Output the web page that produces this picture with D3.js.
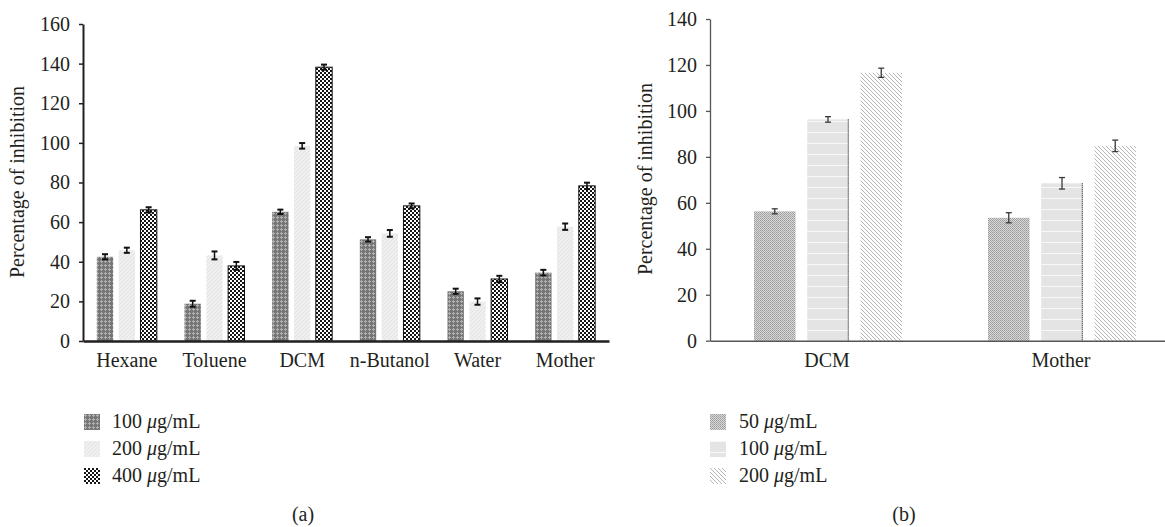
<!DOCTYPE html>
<html><head><meta charset="utf-8">
<script src="https://cdn.jsdelivr.net/npm/d3@7"></script>
<style>
html,body{margin:0;padding:0;background:#fff;}
svg{display:block;}
text{font-family:"Liberation Serif","Times New Roman",serif;fill:#231f20;}
</style></head>
<body><svg id="c" width="1165" height="527"></svg>
<script>
// ---- Panel (a) data ----
const catsA = ["Hexane","Toluene","DCM","n-Butanol","Water","Mother"];
const seriesA = ["100","200","400"];
const valsA100 = [42.5, 18.8, 65.2, 51.3, 25.1, 34.5];
const valsA200 = [45.8, 43.2, 98.5, 54.3, 19.9, 57.7];
const valsA400 = [66.2, 37.9, 138.2, 68.2, 31.3, 78.3];
const errA100 = [0.8, 1.0, 0.6, 0.6, 0.8, 0.9];
const errA200 = [0.8, 1.5, 0.9, 1.2, 1.1, 1.1];
const errA400 = [0.8, 1.5, 0.8, 0.7, 1.1, 1.1];
const ticksA = [0,20,40,60,80,100,120,140,160];
// ---- Panel (b) data ----
const catsB = ["DCM","Mother"];
const seriesB = ["50","100","200"];
const valsB50 = [56.3, 53.5];
const valsB100 = [96.3, 68.5];
const valsB200 = [116.6, 84.8];
const errB50 = [1.1, 2.2];
const errB100 = [1.2, 2.5];
const errB200 = [2.0, 2.5];
const ticksB = [0,20,40,60,80,100,120,140];
const yTitle = "Percentage of inhibition";

const svg = d3.select("#c");
svg.append("rect").attr("width",1165).attr("height",527).attr("fill","#fff");
const defs = svg.append("defs");

function pat(id,w,h,fn){
  const p = defs.append("pattern").attr("id",id).attr("patternUnits","userSpaceOnUse")
    .attr("width",w).attr("height",h);
  fn(p); return "url(#"+id+")";
}
const fillA = [
  pat("pa100",4,4,p=>{p.append("rect").attr("width",4).attr("height",4).attr("fill","#767676");
    p.append("rect").attr("x",0).attr("y",1).attr("width",3).attr("height",1).attr("fill","#b0b0b0");
    p.append("rect").attr("x",1).attr("y",0).attr("width",1).attr("height",3).attr("fill","#b0b0b0");}),
  pat("pa200",4,4,p=>{p.append("rect").attr("width",4).attr("height",4).attr("fill","#efefef");
    p.append("line").attr("x1",0).attr("y1",4).attr("x2",4).attr("y2",0).attr("stroke","#e3e3e3").attr("stroke-width",1);}),
  pat("pa400",4,4,p=>{p.append("rect").attr("width",4).attr("height",4).attr("fill","#fff");
    p.append("rect").attr("width",2).attr("height",2).attr("fill","#151515");
    p.append("rect").attr("x",2).attr("y",2).attr("width",2).attr("height",2).attr("fill","#151515");})
];
const fillB = [
  pat("pb50",2,2,p=>{p.append("rect").attr("width",2).attr("height",2).attr("fill","#d8d8d8");
    p.append("rect").attr("width",1).attr("height",1).attr("fill","#9c9c9c");
    p.append("rect").attr("x",1).attr("y",1).attr("width",1).attr("height",1).attr("fill","#a8a8a8");}),
  pat("pb100",4,11,p=>{p.append("rect").attr("width",4).attr("height",11).attr("fill","#e4e4e4");
    p.append("rect").attr("y",0).attr("width",4).attr("height",1).attr("fill","#f8f8f8");}),
  pat("pb200",4,4,p=>{p.append("rect").attr("width",4).attr("height",4).attr("fill","#fff");
    p.append("line").attr("x1",-1).attr("y1",-1).attr("x2",5).attr("y2",5).attr("stroke","#b4b4b4").attr("stroke-width",1);})
];

const FS = 20;

// ================= Panel (a) =================
{
  const vals = [valsA100, valsA200, valsA400];
  const errs = [errA100, errA200, errA400];
  const x = d3.scaleBand().domain(catsA).range([83, 609]).paddingInner(0).paddingOuter(0);
  const xs = d3.scaleBand().domain(seriesA).range([-30, 30]).paddingInner(0.25);
  const y = d3.scaleLinear().domain([0,160]).range([341, 24]);
  const g = svg.append("g");
  seriesA.forEach((s,si)=>{
    const data = catsA.map((c,i)=>({c, v:vals[si][i], e:errs[si][i]}));
    g.selectAll(".ba"+si).data(data).enter().append("rect")
      .attr("x", d=>x(d.c)+x.bandwidth()/2+xs(s)).attr("width", xs.bandwidth())
      .attr("y", d=>y(d.v)).attr("height", d=>y(0)-y(d.v))
      .attr("fill", fillA[si])
      .attr("stroke", si===2 ? "#111" : "none").attr("stroke-width", si===2 ? 1 : 0);
    const eg = g.selectAll(".ea"+si).data(data).enter().append("g");
    const cx = d=>x(d.c)+x.bandwidth()/2+xs(s)+xs.bandwidth()/2;
    eg.append("line").attr("x1",cx).attr("x2",cx).attr("y1",d=>y(d.v+d.e)-1).attr("y2",d=>y(d.v-d.e)+1)
      .attr("stroke","#111").attr("stroke-width",1.5);
    eg.append("line").attr("x1",d=>cx(d)-3).attr("x2",d=>cx(d)+3).attr("y1",d=>y(d.v+d.e)-1).attr("y2",d=>y(d.v+d.e)-1)
      .attr("stroke","#111").attr("stroke-width",2);
    eg.append("line").attr("x1",d=>cx(d)-3).attr("x2",d=>cx(d)+3).attr("y1",d=>y(d.v-d.e)+1).attr("y2",d=>y(d.v-d.e)+1)
      .attr("stroke","#111").attr("stroke-width",2);
  });
  const ya = g.append("g").attr("transform","translate(83,0)")
    .call(d3.axisLeft(y).tickValues(ticksA).tickSize(4).tickPadding(9).tickSizeOuter(0));
  ya.select(".domain").attr("stroke","#231f20").attr("stroke-width",2);
  ya.selectAll(".tick line").attr("stroke","#231f20").attr("stroke-width",1.5);
  ya.selectAll("text").attr("font-size",FS).attr("fill","#231f20").attr("font-family","Liberation Serif, serif");
  const xa = g.append("g").attr("transform","translate(0,341)")
    .call(d3.axisBottom(x).tickSize(0).tickPadding(12).tickSizeOuter(0));
  xa.select(".domain").attr("stroke","#231f20").attr("stroke-width",2.5);
  xa.selectAll("text").attr("font-size",FS).attr("fill","#231f20").attr("font-family","Liberation Serif, serif");
  g.append("text").attr("transform","translate(24,182) rotate(-90)").attr("text-anchor","middle")
    .attr("font-size",FS).text(yTitle);
  // legend
  const leg = g.selectAll(".lga").data(seriesA).enter().append("g")
    .attr("transform",(d,i)=>`translate(84,${414+i*27})`);
  leg.append("rect").attr("width",16).attr("height",16).attr("fill",(d,i)=>fillA[i]);
  const lt = leg.append("text").attr("x",28).attr("y",14).attr("font-size",FS);
  lt.append("tspan").text(d=>d+" ");
  lt.append("tspan").attr("font-style","italic").text("\u03bc");
  lt.append("tspan").text("g/mL");
  g.append("text").attr("x",303).attr("y",521).attr("text-anchor","middle").attr("font-size",FS).text("(a)");
}

// ================= Panel (b) =================
{
  const vals = [valsB50, valsB100, valsB200];
  const errs = [errB50, errB100, errB200];
  const x = d3.scaleBand().domain(catsB).range([710, 1178]).paddingInner(0).paddingOuter(0);
  const xs = d3.scaleBand().domain(seriesB).range([-73, 75]).paddingInner(0.22);
  const y = d3.scaleLinear().domain([0,140]).range([340.7, 19]);
  const g = svg.append("g");
  seriesB.forEach((s,si)=>{
    const data = catsB.map((c,i)=>({c, v:vals[si][i], e:errs[si][i]}));
    const bx = d=>x(d.c)+x.bandwidth()/2+xs(s);
    g.selectAll(".bb"+si).data(data).enter().append("rect")
      .attr("x", bx).attr("width", xs.bandwidth())
      .attr("y", d=>y(d.v)).attr("height", d=>y(0)-y(d.v))
      .attr("fill", fillB[si]);
    if(si===1){
      g.selectAll(".bd"+si).data(data).enter().append("line")
        .attr("x1", d=>bx(d)+xs.bandwidth()-0.5).attr("x2", d=>bx(d)+xs.bandwidth()-0.5)
        .attr("y1", d=>y(d.v)).attr("y2", y(0))
        .attr("stroke","#111").attr("stroke-width",1).attr("stroke-dasharray","1,1");
    }
    const cx = d=>bx(d)+xs.bandwidth()/2;
    const eg = g.selectAll(".eb"+si).data(data).enter().append("g");
    eg.append("line").attr("x1",cx).attr("x2",cx).attr("y1",d=>y(d.v+d.e)).attr("y2",d=>y(d.v-d.e))
      .attr("stroke","#3a3a3a").attr("stroke-width",1.3);
    eg.append("line").attr("x1",d=>cx(d)-3).attr("x2",d=>cx(d)+3).attr("y1",d=>y(d.v+d.e)).attr("y2",d=>y(d.v+d.e))
      .attr("stroke","#3a3a3a").attr("stroke-width",1.3);
    eg.append("line").attr("x1",d=>cx(d)-3).attr("x2",d=>cx(d)+3).attr("y1",d=>y(d.v-d.e)).attr("y2",d=>y(d.v-d.e))
      .attr("stroke","#3a3a3a").attr("stroke-width",1.3);
  });
  const ya = g.append("g").attr("transform","translate(710,0)")
    .call(d3.axisLeft(y).tickValues(ticksB).tickSize(4).tickPadding(9).tickSizeOuter(0));
  ya.select(".domain").attr("stroke","#555").attr("stroke-width",1.3);
  ya.selectAll(".tick line").attr("stroke","#555").attr("stroke-width",1.3);
  ya.selectAll("text").attr("font-size",FS).attr("fill","#231f20").attr("font-family","Liberation Serif, serif");
  const xa = g.append("g").attr("transform","translate(0,340.7)")
    .call(d3.axisBottom(x).tickSize(0).tickPadding(12).tickSizeOuter(0));
  xa.select(".domain").attr("stroke","#555").attr("stroke-width",1.5);
  xa.selectAll("text").attr("font-size",FS).attr("fill","#231f20").attr("font-family","Liberation Serif, serif");
  g.append("text").attr("transform","translate(652,179) rotate(-90)").attr("text-anchor","middle")
    .attr("font-size",FS).text(yTitle);
  const leg = g.selectAll(".lgb").data(seriesB).enter().append("g")
    .attr("transform",(d,i)=>`translate(710,${414+i*27})`);
  leg.append("rect").attr("width",16).attr("height",16).attr("fill",(d,i)=>fillB[i]);
  const lt = leg.append("text").attr("x",29).attr("y",14).attr("font-size",FS);
  lt.append("tspan").text(d=>d+" ");
  lt.append("tspan").attr("font-style","italic").text("\u03bc");
  lt.append("tspan").text("g/mL");
  g.append("text").attr("x",904).attr("y",521).attr("text-anchor","middle").attr("font-size",FS).text("(b)");
}
</script></body></html>
